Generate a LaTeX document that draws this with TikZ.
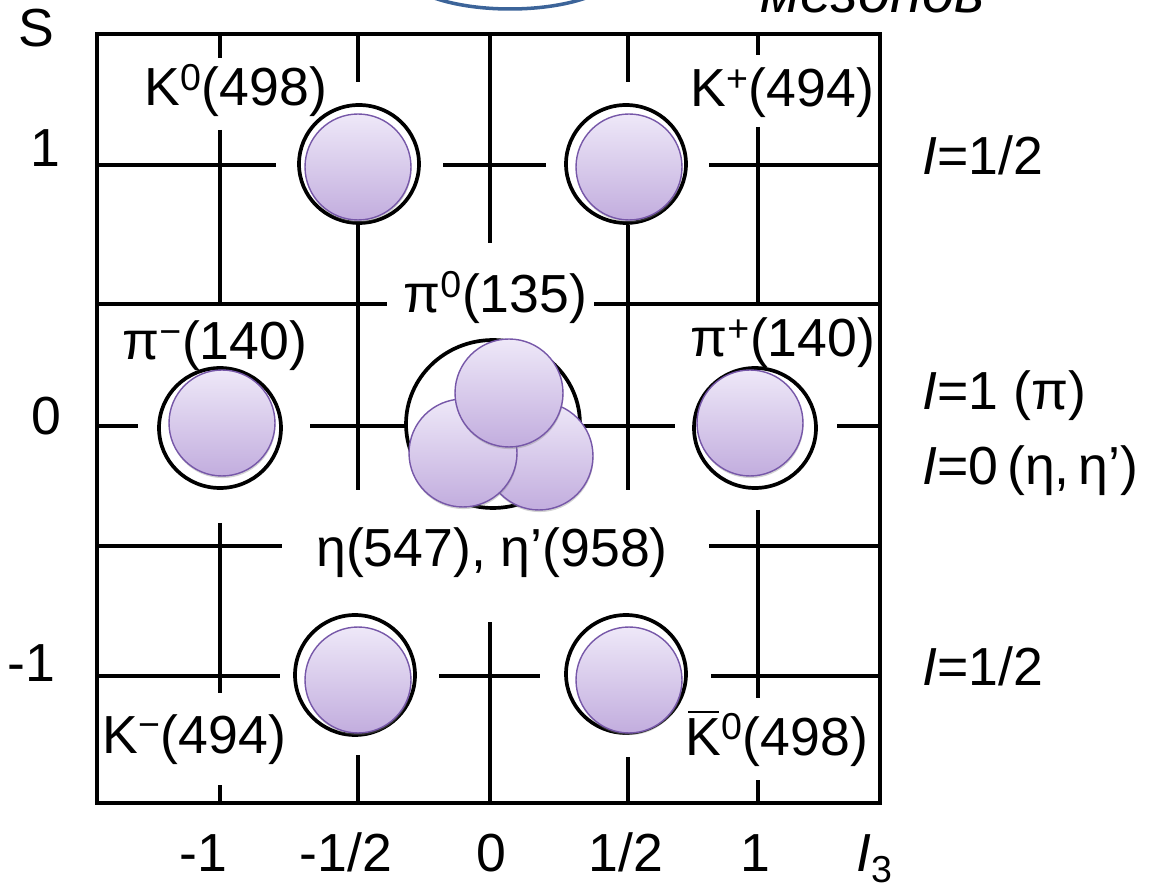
\documentclass[tikz,border=0pt]{standalone}
\usepackage{fontspec}
\setmainfont{Liberation Sans}
\usetikzlibrary{shapes.geometric,shadows}

\definecolor{mesonlight}{HTML}{EEE8F8}
\definecolor{mesondark}{HTML}{C2ADDE}
\definecolor{mesonedge}{HTML}{7657A8}
\definecolor{titleblue}{HTML}{3C6499}

% K with a bar over it
\newcommand{\barK}{\leavevmode\rlap{\hspace{0.05em}\raisebox{0.78em}{\rule{0.58em}{0.05em}}}K}

\begin{document}
\begin{tikzpicture}[x=0.02cm, y=-0.02cm,
    gridline/.style={line width=2pt},
    orbit/.style={draw, ellipse, line width=2.1pt, inner sep=0pt,
      minimum width=2.4cm, minimum height=2.36cm},
    meson/.style={circle, draw=mesonedge, line width=0.8pt, inner sep=0pt,
      top color=mesonlight, bottom color=mesondark, minimum size=2.12cm,
      drop shadow={shadow xshift=0.3pt, shadow yshift=-1.2pt, opacity=0.35}},
    lbl/.style={font=\fontsize{30.5}{36}\selectfont, inner sep=0pt}]
  \useasboundingbox (0,0) rectangle (1153,891);
  \clip (0,0) rectangle (1153,891);

  % cut-off title of the slide
  \draw[titleblue, line width=2pt] (510,-31) ellipse [x radius=2.2cm, y radius=0.8cm];
  \node[lbl, anchor=base west, font=\fontsize{33}{38}\selectfont\itshape] (title) at (760,13) {мезонов};

  % frame
  \draw[line width=2.4pt] (97,34) rectangle (880,803);

  % horizontal lines
  \draw[gridline] (97,165) -- (276,165) (443,165) -- (546,165) (709,165) -- (880,165);
  \draw[gridline] (97,304) -- (387,304) (594,304) -- (880,304);
  \draw[gridline] (97,426) -- (138,426) (310,426) -- (406,426) (580,426) -- (675,426) (837,426) -- (880,426);
  \draw[gridline] (97,546) -- (282,546) (709,546) -- (880,546);
  \draw[gridline] (97,676) -- (280,676) (439,676) -- (540,676) (711,676) -- (880,676);

  % vertical lines
  \draw[gridline] (220,34) -- (220,58) (220,130) -- (220,304) (220,523) -- (220,693) (220,785) -- (220,803);
  \draw[gridline] (358,34) -- (358,82) (358,225) -- (358,490) (358,755) -- (358,803);
  \draw[gridline] (490,34) -- (490,243) (490,622) -- (490,803);
  \draw[gridline] (628,34) -- (628,82) (628,225) -- (628,490) (628,757) -- (628,803);
  \draw[gridline] (758,34) -- (758,55) (758,127) -- (758,304) (758,510) -- (758,698) (758,780) -- (758,803);

  % S = 1
  \node[orbit] (K0orb) at (359,164) {};
  \node[orbit] (Kporb) at (626,164) {};
  \node[meson] (K0) at (358,167) {};
  \node[meson] (Kp) at (629,167) {};
  \node[lbl, anchor=base west] (K0lbl) at (144,106) {K\textsuperscript{0}(498)};
  \node[lbl, anchor=base west] (Kplbl) at (690,107) {K\textsuperscript{+}(494)};

  % S = 0
  \node[orbit, minimum width=2.44cm, minimum height=2.4cm] (pimorb) at (220,428) {};
  \node[orbit, minimum width=2.44cm, minimum height=2.4cm] (piporb) at (755,428) {};
  \node[orbit, minimum width=3.48cm, minimum height=3.36cm] (etaorb) at (493,424) {};
  \node[meson] (pim) at (222,423) {};
  \node[meson] (pip) at (750,423) {};
  \node[meson, minimum size=2.16cm] (eta2) at (539,456) {};
  \node[meson, minimum size=2.16cm] (eta1) at (463,453) {};
  \node[meson, minimum size=2.16cm] (pi0) at (509,393) {};
  \node[lbl, anchor=base west] (pimlbl) at (122,360) {π\textsuperscript{−}(140)};
  \node[lbl, anchor=base west] (piplbl) at (690,357) {π\textsuperscript{+}(140)};
  \node[lbl, anchor=base west] (pi0lbl) at (403,313) {π\textsuperscript{0}(135)};
  \node[lbl, anchor=base west] (etalbl) at (316,567) {η(547), η'(958)};

  % S = -1
  \node[orbit, minimum height=2.4cm] (Kmorb) at (355,675) {};
  \node[orbit] (K0borb) at (626,674) {};
  \node[meson] (Km) at (358,680) {};
  \node[meson] (K0b) at (629,680) {};
  \node[lbl, anchor=base west] (Kmlbl) at (102,753) {K\textsuperscript{−}(494)};
  \node[lbl, anchor=base west] (K0blbl) at (685,755) {\barK\textsuperscript{0}(498)};

  % S axis
  \node[lbl] (Saxis) at (36,28) {S};
  \node[lbl] (S1) at (45,148) {1};
  \node[lbl] (S0) at (46,416) {0};
  \node[lbl] (Sm1) at (31,663) {-1};

  % I3 axis
  \node[lbl, anchor=base] (Im1) at (203,871) {-1};
  \node[lbl, anchor=base] (Imh) at (346,871) {-1/2};
  \node[lbl, anchor=base] (I0) at (491,871) {0};
  \node[lbl, anchor=base] (Iph) at (626,871) {1/2};
  \node[lbl, anchor=base] (Ip1) at (755,871) {1};
  \node[lbl, anchor=base west] (I3axis) at (856,871) {\textit{I}\textsubscript{3}};

  % isospin
  \node[lbl, anchor=base west] (iso1) at (922,175) {\textit{I}=1/2};
  \node[lbl, anchor=base west] (iso2) at (922,410) {\textit{I}=1 (π)};
  \node[lbl, anchor=base west] (iso3) at (922,485) {\textit{I}=0\,(η,\,η')};
  \node[lbl, anchor=base west] (iso4) at (922,685) {\textit{I}=1/2};
\end{tikzpicture}
\end{document}
